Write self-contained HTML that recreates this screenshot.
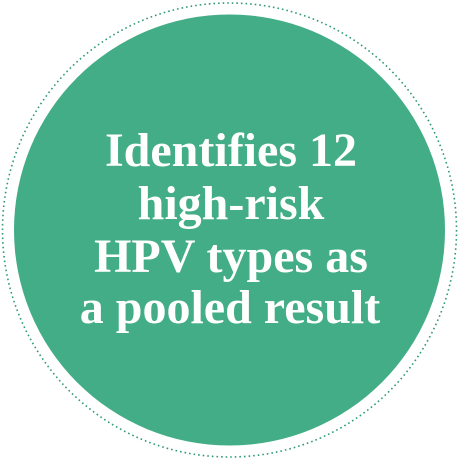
<!DOCTYPE html>
<html><head><style>
html,body{margin:0;padding:0;background:#fff;width:459px;height:460px;overflow:hidden}
svg{display:block}
</style></head><body>
<svg width="459" height="460" viewBox="0 0 459 460">
<circle cx="229.5" cy="230" r="227" fill="none" stroke="#2e9a78" stroke-width="1.6" stroke-dasharray="1.6 3"/>
<circle cx="229.5" cy="230" r="215.5" fill="#42ad86"/>
<g font-family="'Liberation Serif',serif" font-weight="bold" font-size="48" fill="#fff" text-anchor="middle">
<text x="231" y="166">Identifies 12</text>
<text x="231" y="219">high-risk</text>
<text x="231" y="272">HPV types as</text>
<text x="230" y="323">a pooled result</text>
</g>
</svg>
</body></html>
